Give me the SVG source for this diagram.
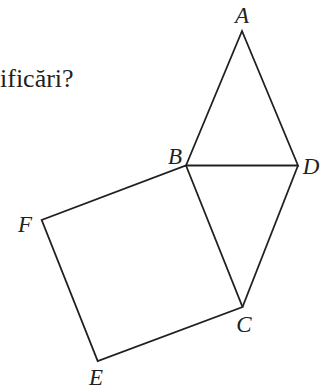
<svg xmlns="http://www.w3.org/2000/svg" width="322" height="387" viewBox="0 0 322 387">
<style>
.edge{fill:none;stroke:#231f20;stroke-width:1.8;stroke-linejoin:miter;stroke-linecap:butt}
.lbl{font-family:"Liberation Serif","Times New Roman",serif;font-style:italic;font-size:23px;fill:#231f20;text-anchor:middle}
.txt{font-family:"Liberation Serif","Times New Roman",serif;font-size:26px;fill:#231f20}
</style>
<rect width="322" height="387" fill="#ffffff"/>
<text class="txt" x="0" y="87">ificări?</text>
<g id="connectors">
<polygon class="edge" points="242,31 298,165.5 186,165.5"/>
<line class="edge" x1="298" y1="165.5" x2="242.5" y2="307"/>
<polygon class="edge" points="186,165.5 242.5,307 97.7,361 41.7,220"/>
</g>
<g id="A"><text class="lbl" x="242" y="23">A</text></g>
<g id="B"><text class="lbl" x="175" y="164">B</text></g>
<g id="D"><text class="lbl" x="311" y="174">D</text></g>
<g id="C"><text class="lbl" x="244" y="332">C</text></g>
<g id="F"><text class="lbl" x="25" y="232">F</text></g>
<g id="E"><text class="lbl" x="96" y="385">E</text></g>
</svg>
